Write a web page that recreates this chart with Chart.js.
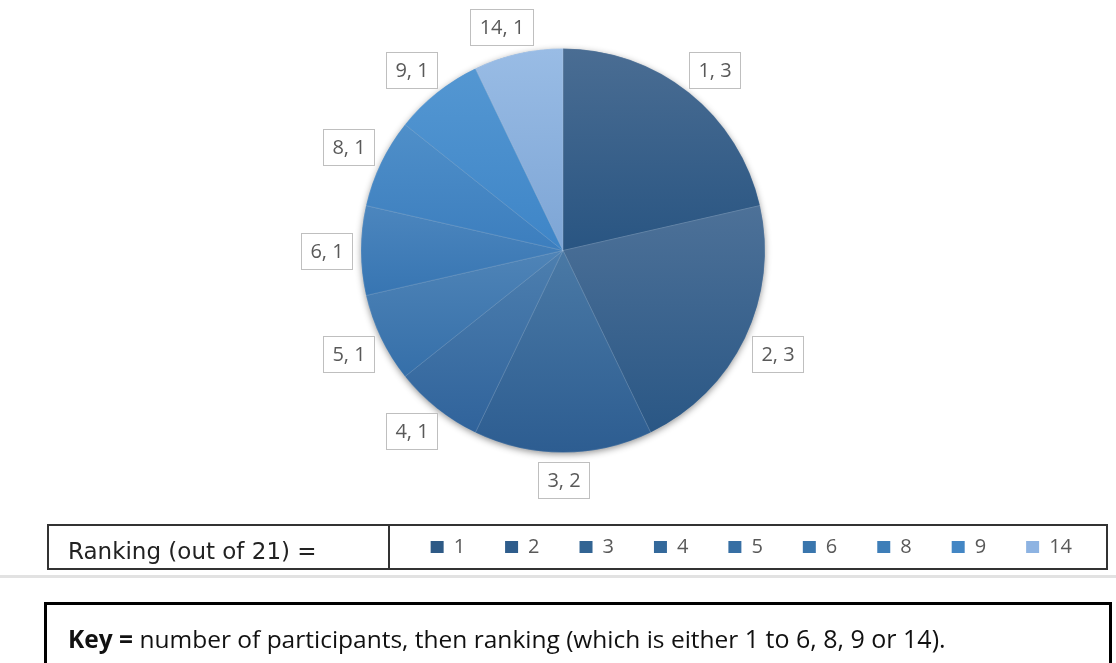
<!DOCTYPE html>
<html>
<head>
<meta charset="utf-8">
<script src="https://cdn.jsdelivr.net/npm/chart.js@4.4.0/dist/chart.umd.min.js"></script>
<style>
  body { margin: 0; background: #fff; }
  #wrap { position: relative; width: 1116px; height: 663px; overflow: hidden; background: #fff; }
  #chartBox { position: absolute; left: 0; top: 0; width: 1116px; height: 663px; }
  .over { position: absolute; pointer-events: none; box-sizing: border-box; }
  #legendTable { left: 47px; top: 524px; width: 1061px; height: 46px; border: 2px solid #333; }
  #legendDivider { left: 388px; top: 524px; width: 2px; height: 46px; background: #333; }
  #legendTitle { left: 68px; top: 537px; font: 23px "DejaVu Sans", sans-serif; line-height: 28px; color: #222; white-space: nowrap; }
  #greyRule { left: 0; top: 575px; width: 1116px; height: 3px; background: #e2e2e2; }
  #keyBox { left: 44px; top: 602px; width: 1068px; height: 90px; border: 3px solid #000;
            padding: 18px 0 0 21px; font: 24.5px "Open Sans", sans-serif; line-height: 30px; color: #111; white-space: nowrap; }
  #keyBox b { font-weight: 700; }
  #keyBox .num { font-size: 25px; }
</style>
</head>
<body>
<div id="wrap">
  <div id="chartBox"><canvas id="rankingChart"></canvas></div>
  <div class="over" id="legendTable"></div>
  <div class="over" id="legendDivider"></div>
  <div class="over" id="legendTitle">Ranking (out of 21) =</div>
  <div class="over" id="greyRule"></div>
  <div class="over" id="keyBox"><b>Key =</b> number of participants, then ranking (which is either <span class="num">1 to 6, 8, 9 or 14).</span></div>
</div>
<script>
// ranking position (out of 21) and how many participants got it
const rankings = ['1', '2', '3', '4', '5', '6', '8', '9', '14'];
const participants = [3, 3, 2, 1, 1, 1, 1, 1, 1];

// flat colours (legend) and the top/bottom of each slice's shading
const sliceColors = ['#2e5a86', '#2f5d8c', '#326493', '#34699b', '#376fa4', '#3a76ad', '#3e7eb8', '#4386c4', '#8db3e2'];
const sliceTop = ['#4a6d93', '#4d7198', '#4a79a5', '#4d7faf', '#4f84b7', '#4c86be', '#4f8fc9', '#5497d2', '#99bce5'];
const sliceBottom = ['#295582', '#2a5785', '#2d5d91', '#30639b', '#356fa9', '#3775b2', '#3c7ebe', '#3e85c7', '#7da5d5'];

function spans(a0, a1, a) {
  for (let k = -1; k <= 1; k++) {
    const t = a + k * 2 * Math.PI;
    if (t >= a0 && t <= a1) return true;
  }
  return false;
}

// vertical gradient over each slice's own height
function sliceFill(context) {
  const i = context.dataIndex;
  if (i === undefined) return sliceColors[0];
  const arc = context.chart.getDatasetMeta(0).data[i];
  if (!arc || !arc.outerRadius) return sliceColors[i];
  const r = arc.outerRadius;
  const ys = [arc.y, arc.y + r * Math.sin(arc.startAngle), arc.y + r * Math.sin(arc.endAngle)];
  let top = Math.min.apply(null, ys);
  let bottom = Math.max.apply(null, ys);
  if (spans(arc.startAngle, arc.endAngle, -Math.PI / 2)) top = arc.y - r;
  if (spans(arc.startAngle, arc.endAngle, Math.PI / 2)) bottom = arc.y + r;
  const g = context.chart.ctx.createLinearGradient(0, top, 0, bottom);
  g.addColorStop(0, sliceTop[i]);
  g.addColorStop(1, sliceBottom[i]);
  return g;
}

const pieShadow = {
  id: 'pieShadow',
  beforeDatasetsDraw(chart) {
    const arc = chart.getDatasetMeta(0).data[0];
    if (!arc) return;
    const ctx = chart.ctx;
    ctx.save();
    ctx.shadowColor = 'rgba(0,0,0,0.45)';
    ctx.shadowBlur = 7;
    ctx.shadowOffsetY = 2;
    ctx.fillStyle = '#3d6b99';
    ctx.beginPath();
    ctx.arc(arc.x, arc.y, arc.outerRadius - 0.5, 0, Math.PI * 2);
    ctx.fill();
    ctx.restore();
  }
};

// "ranking, count" labels in little grey boxes outside the pie
const boxedLabels = {
  id: 'boxedLabels',
  afterDatasetsDraw(chart) {
    const ctx = chart.ctx;
    const meta = chart.getDatasetMeta(0);
    ctx.save();
    ctx.font = '20px "Open Sans"';
    ctx.textAlign = 'center';
    ctx.textBaseline = 'middle';
    meta.data.forEach(function (arc, i) {
      const text = rankings[i] + ', ' + participants[i];
      const w = Math.round(ctx.measureText(text).width + 18);
      const h = 36;
      const mid = (arc.startAngle + arc.endAngle) / 2;
      const c = Math.cos(mid), s = Math.sin(mid);
      // anchor just outside the rim, box pushed away from it
      const anchor = arc.outerRadius + 9;
      const cx = arc.x + c * anchor + Math.sign(c) * Math.sqrt(Math.abs(c)) * w / 2;
      const cy = arc.y + s * anchor + Math.sign(s) * Math.sqrt(Math.abs(s)) * h / 2;
      const left = Math.round(cx - w / 2);
      const top = Math.round(cy - h / 2);
      ctx.fillStyle = '#fff';
      ctx.fillRect(left, top, w, h);
      ctx.strokeStyle = '#bfbfbf';
      ctx.lineWidth = 1;
      ctx.strokeRect(left + 0.5, top + 0.5, w, h);
      ctx.fillStyle = '#595959';
      ctx.fillText(text, left + w / 2 + 0.5, top + h / 2 + 1);
    });
    ctx.restore();
  }
};

Chart.defaults.font.family = '"Open Sans", sans-serif';

const ctx = document.getElementById('rankingChart').getContext('2d');
const rankingChart = new Chart(ctx, {
  type: 'pie',
  data: {
    labels: rankings,
    datasets: [{
      data: participants,
      backgroundColor: sliceFill,
      borderColor: 'rgba(255,255,255,0.12)',
      borderWidth: 1
    }]
  },
  options: {
    responsive: true,
    maintainAspectRatio: false,
    animation: false,
    radius: 202,
    layout: {
      padding: { left: 14, right: 4, top: 4, bottom: 96 }
    },
    plugins: {
      tooltip: { enabled: false },
      legend: {
        position: 'bottom',
        align: 'end',
        labels: {
          boxWidth: 13,
          boxHeight: 12,
          padding: 40,
          color: '#595959',
          font: { size: 20 },
          generateLabels: function () {
            return rankings.map(function (r, i) {
              return { text: r, fillStyle: sliceColors[i], strokeStyle: sliceColors[i], lineWidth: 0, hidden: false, index: i, fontColor: '#595959' };
            });
          }
        }
      }
    }
  },
  plugins: [pieShadow, boxedLabels]
});
// second pass so the slice gradients can use the laid-out arcs
rankingChart.update();
</script>
</body>
</html>
